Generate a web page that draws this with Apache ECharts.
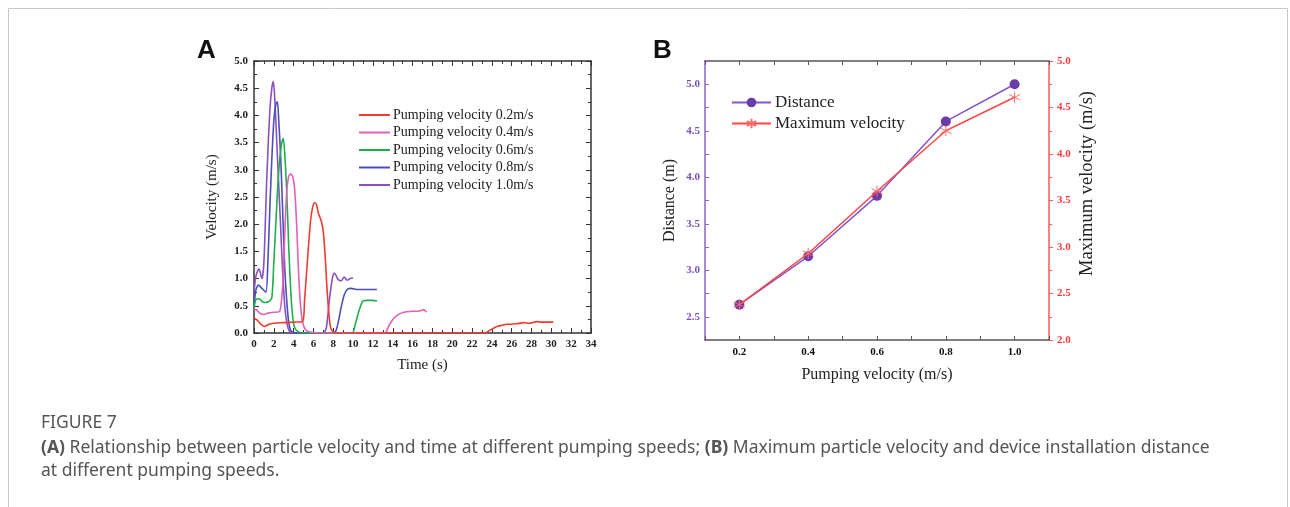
<!DOCTYPE html>
<html>
<head>
<meta charset="utf-8">
<script src="https://cdn.jsdelivr.net/npm/echarts@6/dist/echarts.min.js"></script>
<style>
html,body{margin:0;padding:0;background:#fff;}
#c{width:1290px;height:507px;}
</style>
</head>
<body>
<div id="c"></div>
<script>
// ---------- Panel A data (time s, velocity m/s) ----------
const tA02 = [0,0.3,0.7,1.1,1.5,2,3,4,4.9,5.1,5.3,5.5,5.7,5.9,6.1,6.3,6.5,6.8,7.0,7.2,7.4,7.7,8.0,8.4,10,14,18,22,23.3,23.8,24.5,25.0,25.5,26.0,26.5,27.2,27.8,28.5,29.2,30.2];
const vA02 = [0.27,0.24,0.16,0.12,0.16,0.18,0.19,0.2,0.21,0.6,1.1,1.6,2.05,2.3,2.4,2.36,2.2,2.05,1.85,1.35,0.72,0.12,0.02,0,0,0,0,0,0,0.05,0.12,0.14,0.16,0.16,0.17,0.19,0.18,0.21,0.2,0.2];
const tA04 = [0,0.2,0.6,1.0,1.5,2.0,2.6,2.9,3.1,3.3,3.5,3.7,3.9,4.1,4.3,4.5,4.7,4.9,5.2,5.6,7,10,13.2,13.6,14.0,14.4,14.9,15.4,16.0,16.4,16.8,17.1,17.4];
const vA04 = [0.42,0.43,0.36,0.34,0.37,0.38,0.40,0.9,1.8,2.6,2.88,2.92,2.88,2.65,2.0,1.1,0.5,0.2,0.06,0.02,0,0,0,0.13,0.25,0.32,0.37,0.39,0.40,0.40,0.41,0.43,0.38];
const tA06 = [0,0.2,0.5,1.0,1.5,1.8,2.0,2.2,2.4,2.6,2.8,2.95,3.1,3.3,3.5,3.7,3.9,4.1,4.4,5,7,9.9,10.2,10.5,10.8,11.0,11.5,12.0,12.4];
const vA06 = [0.45,0.62,0.63,0.56,0.58,0.65,1.3,2.0,2.7,3.2,3.5,3.58,3.3,2.6,1.6,0.8,0.3,0.1,0.03,0,0,0,0.15,0.35,0.52,0.59,0.6,0.6,0.59];
const tA08 = [0,0.2,0.45,0.8,1.2,1.4,1.6,1.8,2.0,2.2,2.36,2.5,2.7,2.9,3.1,3.3,3.5,3.7,4.0,5,7.5,8.2,8.5,8.8,9.1,9.4,9.8,10.5,11.5,12.4];
const vA08 = [0.5,0.8,0.88,0.82,0.75,1.3,2.3,3.2,3.9,4.2,4.25,3.9,3.2,2.2,1.2,0.6,0.2,0.05,0.01,0,0,0.02,0.2,0.48,0.7,0.8,0.82,0.8,0.8,0.8];
const tA10 = [0,0.2,0.5,0.8,1.0,1.3,1.6,1.8,1.95,2.1,2.3,2.5,2.7,2.9,3.1,3.3,3.5,3.8,5,7.0,7.3,7.6,7.9,8.1,8.3,8.5,8.8,9.1,9.4,9.7,10.0];
const vA10 = [0.75,1.05,1.18,1.0,1.3,2.9,4.1,4.5,4.62,4.3,3.5,2.7,1.9,1.1,0.5,0.2,0.06,0,0,0,0.1,0.6,1.0,1.1,1.05,0.98,0.96,1.03,0.97,1.0,1.01];
const seriesNamesA = ['Pumping velocity 0.2m/s','Pumping velocity 0.4m/s','Pumping velocity 0.6m/s','Pumping velocity 0.8m/s','Pumping velocity 1.0m/s'];

// ---------- Panel B data ----------
const pumpVel = [0.2,0.4,0.6,0.8,1.0];
const distance = [2.63,3.15,3.80,4.60,5.00];
const maxVelocity = [2.38,2.93,3.60,4.25,4.61];
const seriesNamesB = ['Distance','Maximum velocity'];

const colorsA = ['#f23b30','#e260b6','#1fae4a','#4a50b8','#8c50c2'];
const redB = '#ff4646';
const serif = '"Liberation Serif","Times New Roman",serif';

function pairs(t,v){ return t.map((x,i)=>[x,v[i]]); }
const dataA = [pairs(tA02,vA02),pairs(tA04,vA04),pairs(tA06,vA06),pairs(tA08,vA08),pairs(tA10,vA10)];

const tickLab = {fontFamily:serif,fontWeight:'bold',fontSize:11,color:'#222'};
const lineA = {onZero:false,lineStyle:{color:'#333',width:1.5}};

const chart = echarts.init(document.getElementById('c'));
const option = {
  animation:false,
  grid:[
    {left:254,top:61,width:337,height:272},
    {left:705,top:61,width:344,height:279}
  ],
  xAxis:[
    {gridIndex:0,type:'value',min:0,max:34,interval:2,position:'bottom',
     name:'Time (s)',nameLocation:'middle',nameGap:25,
     nameTextStyle:{fontFamily:serif,fontSize:15,color:'#222'},
     axisLine:lineA,
     axisTick:{inside:true,length:5,lineStyle:{color:'#333'}},
     minorTick:{show:true,splitNumber:2,length:3,lineStyle:{color:'#333'}},
     axisLabel:Object.assign({margin:6},tickLab),splitLine:{show:false}},
    {gridIndex:0,type:'value',min:0,max:34,interval:2,position:'top',
     axisLine:lineA,
     axisTick:{inside:true,length:5,lineStyle:{color:'#333'}},
     minorTick:{show:true,splitNumber:2,length:3,lineStyle:{color:'#333'}},
     axisLabel:{show:false},splitLine:{show:false}},
    {gridIndex:1,type:'value',min:0.1,max:1.1,interval:0.1,position:'bottom',
     name:'Pumping velocity (m/s)',nameLocation:'middle',nameGap:27,
     nameTextStyle:{fontFamily:serif,fontSize:16,color:'#222'},
     axisLine:{onZero:false,lineStyle:{color:'#555',width:1.5}},
     axisTick:{inside:true,length:4,lineStyle:{color:'#555'}},
     axisLabel:Object.assign({},tickLab,{margin:7,color:'#111',formatter:v=>{const r=Math.round(v*10);return (r%2===0)?(r/10).toFixed(1):'';}}),
     splitLine:{show:false}},
    {gridIndex:1,type:'value',min:0.1,max:1.1,interval:0.1,position:'top',
     axisLine:{onZero:false,lineStyle:{color:'#555',width:1.5}},
     axisTick:{inside:true,length:4,lineStyle:{color:'#555'}},
     axisLabel:{show:false},splitLine:{show:false}}
  ],
  yAxis:[
    {gridIndex:0,type:'value',min:0,max:5,interval:0.5,position:'left',
     name:'Velocity (m/s)',nameLocation:'middle',nameGap:34,
     nameTextStyle:{fontFamily:serif,fontSize:15,color:'#222'},
     axisLine:lineA,
     axisTick:{inside:true,length:5,lineStyle:{color:'#333'}},
     minorTick:{show:true,splitNumber:2,length:3,lineStyle:{color:'#333'}},
     axisLabel:Object.assign({margin:6,formatter:v=>v.toFixed(1)},tickLab),splitLine:{show:false}},
    {gridIndex:0,type:'value',min:0,max:5,interval:0.5,position:'right',
     axisLine:lineA,
     axisTick:{inside:true,length:5,lineStyle:{color:'#333'}},
     minorTick:{show:true,splitNumber:2,length:3,lineStyle:{color:'#333'}},
     axisLabel:{show:false},splitLine:{show:false}},
    {gridIndex:1,type:'value',min:2.25,max:5.25,interval:0.25,position:'left',
     name:'Distance (m)',nameLocation:'middle',nameGap:27,
     nameTextStyle:{fontFamily:serif,fontSize:16,color:'#222'},
     axisLine:{onZero:false,lineStyle:{color:'#8d62cc',width:1.5}},
     axisTick:{inside:true,length:4,lineStyle:{color:'#8d62cc'}},
     axisLabel:Object.assign({},tickLab,{margin:5,color:'#7a52c0',formatter:v=>{const r=Math.round(v*100);return (r%50===0)?(r/100).toFixed(1):'';}}),
     splitLine:{show:false}},
    {gridIndex:1,type:'value',min:2,max:5,interval:0.5,position:'right',
     name:'Maximum velocity (m/s)',nameLocation:'middle',nameGap:29,nameRotate:90,
     nameTextStyle:{fontFamily:serif,fontSize:18.5,color:'#222',padding:[0,0,0,34]},
     axisLine:{onZero:false,lineStyle:{color:'#ff5a5a',width:1.5}},
     axisTick:{inside:false,length:4,lineStyle:{color:'#ff5a5a'}},
     minorTick:{show:true,splitNumber:2,length:3,lineStyle:{color:'#ff5a5a'}},
     axisLabel:Object.assign({},tickLab,{margin:8,color:'#ff3b3b',formatter:v=>v.toFixed(1)}),
     splitLine:{show:false}}
  ],
  legend:[
    {data:seriesNamesA,orient:'vertical',left:354,top:103,icon:'rect',itemWidth:31,itemHeight:2,itemGap:3.5,
     textStyle:{fontFamily:serif,fontSize:14,color:'#222',padding:[0,0,0,-2]}},
    {data:seriesNamesB,orient:'vertical',left:726,top:89,itemWidth:39,itemHeight:12,itemGap:4,
     textStyle:{fontFamily:serif,fontSize:17,color:'#222',padding:[0,0,0,-1]}}
  ],
  series:[
    ...dataA.map((d,i)=>({
      name:seriesNamesA[i],type:'line',xAxisIndex:0,yAxisIndex:0,data:d,
      symbol:'none',smooth:0.25,lineStyle:{width:1.6,color:colorsA[i]},itemStyle:{color:colorsA[i]},z:2+(4-i)
    })),
    {name:seriesNamesB[0],type:'line',xAxisIndex:2,yAxisIndex:2,
     data:pumpVel.map((x,i)=>[x,distance[i]]),
     symbol:'circle',symbolSize:10,lineStyle:{width:1.5,color:'#8455c8'},itemStyle:{color:'#6a3ca8'},z:3},
    {name:seriesNamesB[1],type:'line',xAxisIndex:2,yAxisIndex:3,
     data:pumpVel.map((x,i)=>[x,maxVelocity[i]]),
     symbol:'path://M0,-5L0,5M-4.33,-2.5L4.33,2.5M-4.33,2.5L4.33,-2.5',symbolSize:11,
     lineStyle:{width:1.5,color:redB},itemStyle:{color:'rgba(0,0,0,0)',borderColor:'#ff6a6a',borderWidth:1},z:4}
  ],
  graphic:[
    {type:'rect',shape:{x:8.5,y:8.5,width:1279,height:520},style:{fill:'none',stroke:'#c8c8c8',lineWidth:1},silent:true},
    {type:'text',left:197,top:38,style:{text:'A',font:'bold 26px "Liberation Sans",Arial,sans-serif',fill:'#111'}},
    {type:'text',left:653,top:38,style:{text:'B',font:'bold 26px "Liberation Sans",Arial,sans-serif',fill:'#111'}},
    {type:'text',left:41,top:414,style:{text:'FIGURE 7',font:'17.5px "Noto Sans",sans-serif',fill:'#555'}},
    {type:'text',left:41,top:439,style:{
      text:'{b|(A)} Relationship between particle velocity and time at different pumping speeds; {b|(B)} Maximum particle velocity and device installation distance',
      font:'17.5px "Noto Sans",sans-serif',fill:'#555',
      rich:{b:{font:'bold 17.5px "Noto Sans",sans-serif',fill:'#555'}}}},
    {type:'text',left:41,top:462,style:{text:'at different pumping speeds.',font:'17.5px "Noto Sans",sans-serif',fill:'#555'}}
  ]
};
chart.setOption(option);
</script>
</body>
</html>
